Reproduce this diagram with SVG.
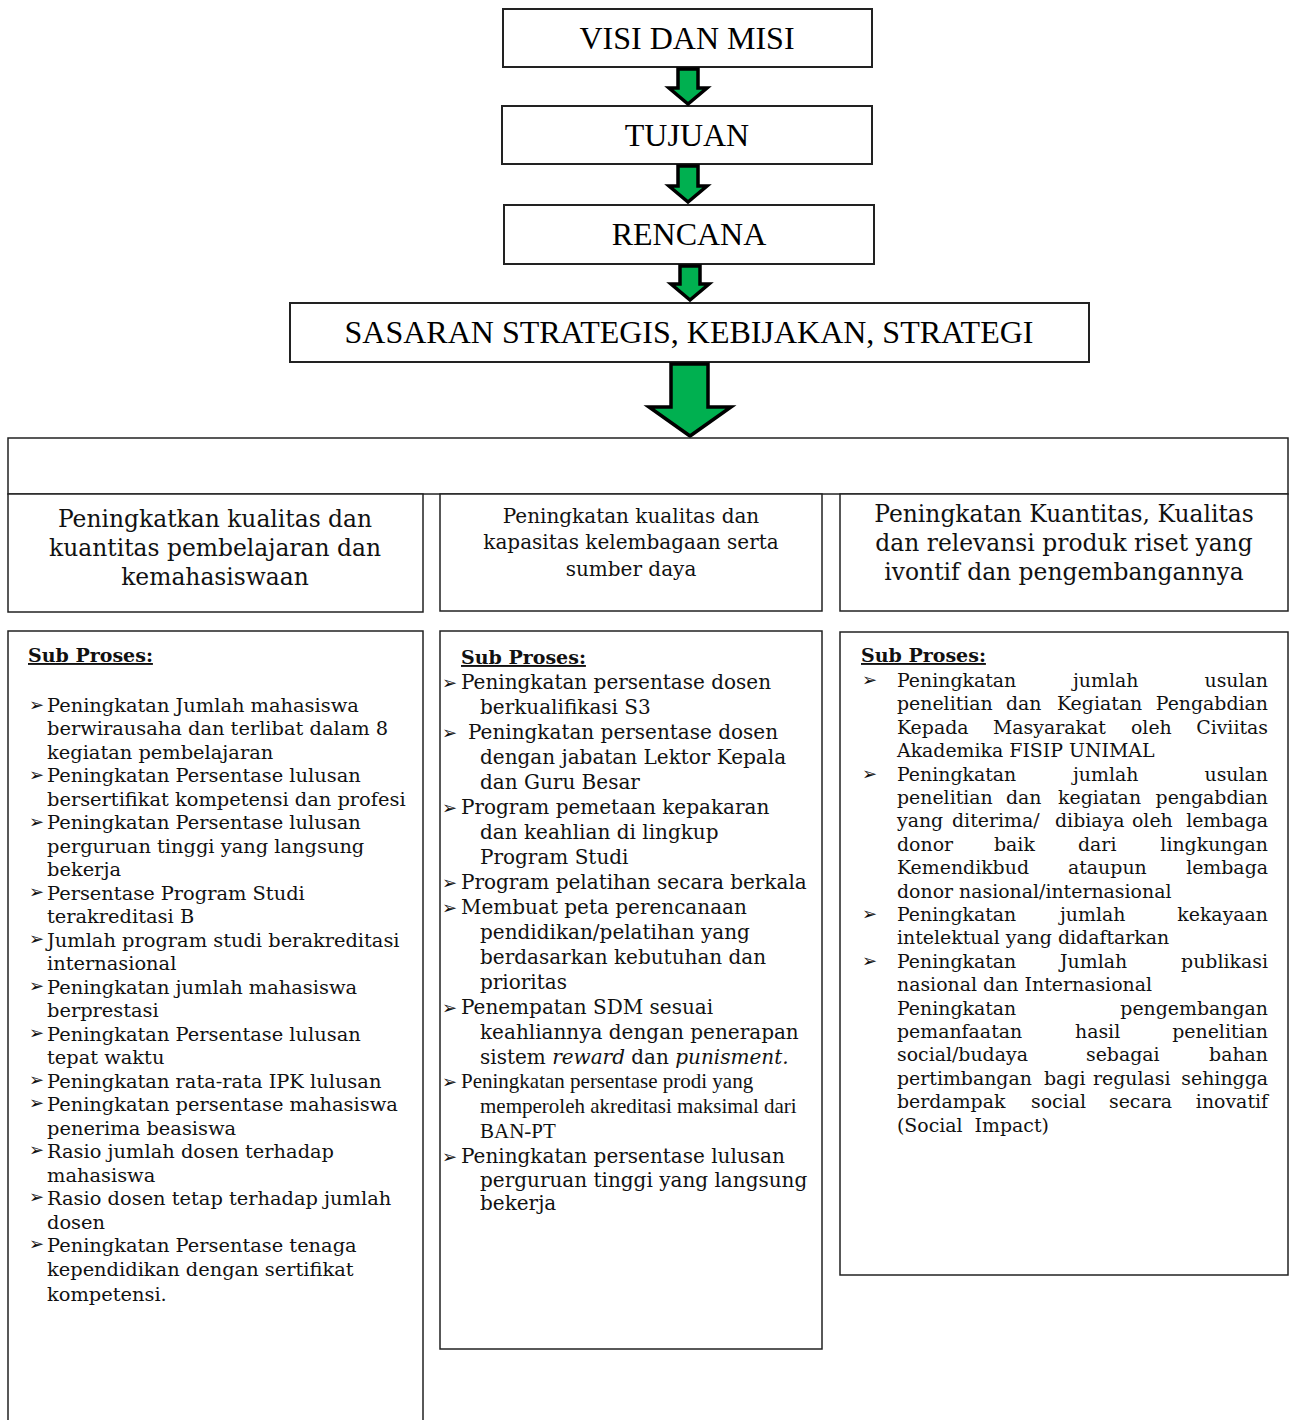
<svg xmlns="http://www.w3.org/2000/svg" width="1293" height="1420" viewBox="0 0 1293 1420">
<style>
.box{fill:#fff;stroke:#222;stroke-width:1.5}
.tbox{fill:#fff;stroke:#222;stroke-width:2}
.arr{fill:#00b050;stroke:#000;stroke-width:3.5;stroke-linejoin:miter}
.big{font-family:"Liberation Serif","Times New Roman",serif;font-size:32px;fill:#000;text-anchor:middle}
.hd{font-family:"DejaVu Serif",serif;font-size:23.4px;fill:#111;text-anchor:middle}
.hd2{font-family:"DejaVu Serif",serif;font-size:20px;fill:#111;text-anchor:middle}
.b1{font-family:"DejaVu Serif",serif;font-size:19.4px;fill:#111}
.b2{font-family:"DejaVu Serif",serif;font-size:20px;fill:#111}
.b3{font-family:"DejaVu Serif",serif;font-size:18.9px;fill:#111}
.tm{font-family:"Liberation Serif","Times New Roman",serif;font-size:21px;fill:#111}
.sp{font-family:"DejaVu Serif",serif;font-size:19px;font-weight:bold;text-decoration:underline;fill:#111}
.bl{font-family:"DejaVu Sans",sans-serif;font-size:18px;fill:#111}
.e{text-anchor:end}
</style>
<g id="visi"><rect class="tbox" x="503" y="9" width="369" height="58"/><text class="big" x="687" y="49">VISI DAN MISI</text></g>
<g id="tujuan"><rect class="tbox" x="502" y="106" width="370" height="58"/><text class="big" x="687" y="146">TUJUAN</text></g>
<g id="rencana"><rect class="tbox" x="504" y="205" width="370" height="59"/><text class="big" x="689" y="245">RENCANA</text></g>
<g id="sasaran"><rect class="tbox" x="290" y="303" width="799" height="59"/><text class="big" x="689" y="343">SASARAN STRATEGIS, KEBIJAKAN, STRATEGI</text></g>
<g id="connectors">
<polygon class="arr" points="678,69 698,69 698,88 707,88 688,104 669,88 678,88"/>
<polygon class="arr" points="678,166 698,166 698,186 707,186 688,202 669,186 678,186"/>
<polygon class="arr" points="680,266 700,266 700,284 709,284 690,300 671,284 680,284"/>
<polygon class="arr" points="671,364 708,364 708,407 731,407 690,436 649,407 671,407"/>
</g>
<g id="container"><rect class="box" x="8" y="438" width="1280" height="56"/></g>
<g id="head1"><rect class="box" x="8" y="494" width="415" height="118"/>
<text class="hd" x="215" y="527">Peningkatkan kualitas dan</text>
<text class="hd" x="215" y="556">kuantitas pembelajaran dan</text>
<text class="hd" x="215" y="585">kemahasiswaan</text></g>
<g id="head2"><rect class="box" x="440" y="494" width="382" height="117"/>
<text class="hd2" x="631" y="523">Peningkatan kualitas dan</text>
<text class="hd2" x="631" y="549">kapasitas kelembagaan serta</text>
<text class="hd2" x="631" y="576">sumber daya</text></g>
<g id="head3"><rect class="box" x="840" y="494" width="448" height="117"/>
<text class="hd" x="1064" y="522">Peningkatan Kuantitas, Kualitas</text>
<text class="hd" x="1064" y="551">dan relevansi produk riset yang</text>
<text class="hd" x="1064" y="580">ivontif dan pengembangannya</text></g>
<g id="sub1"><rect class="box" x="8" y="631" width="415" height="800"/>
<text class="sp" x="28" y="662">Sub Proses:</text>
<g class="bl"><text x="29" y="711">➢</text><text x="29" y="781">➢</text><text x="29" y="828">➢</text><text x="29" y="898">➢</text><text x="29" y="945">➢</text><text x="29" y="992">➢</text><text x="29" y="1039">➢</text><text x="29" y="1086">➢</text><text x="29" y="1109">➢</text><text x="29" y="1156">➢</text><text x="29" y="1203">➢</text><text x="29" y="1250">➢</text></g>
<g class="b1">
<text x="47" y="711.5">Peningkatan Jumlah mahasiswa</text>
<text x="47" y="735">berwirausaha dan terlibat dalam 8</text>
<text x="47" y="758.5">kegiatan pembelajaran</text>
<text x="47" y="782">Peningkatan Persentase lulusan</text>
<text x="47" y="805.5">bersertifikat kompetensi dan profesi</text>
<text x="47" y="829">Peningkatan Persentase lulusan</text>
<text x="47" y="852.5">perguruan tinggi yang langsung</text>
<text x="47" y="876">bekerja</text>
<text x="47" y="899.5">Persentase Program Studi</text>
<text x="47" y="923">terakreditasi B</text>
<text x="47" y="946.5">Jumlah program studi berakreditasi</text>
<text x="47" y="970">internasional</text>
<text x="47" y="993.5">Peningkatan jumlah mahasiswa</text>
<text x="47" y="1017">berprestasi</text>
<text x="47" y="1040.5">Peningkatan Persentase lulusan</text>
<text x="47" y="1064">tepat waktu</text>
<text x="47" y="1087.5">Peningkatan rata-rata IPK lulusan</text>
<text x="47" y="1111">Peningkatan persentase mahasiswa</text>
<text x="47" y="1134.5">penerima beasiswa</text>
<text x="47" y="1158">Rasio jumlah dosen terhadap</text>
<text x="47" y="1181.5">mahasiswa</text>
<text x="47" y="1205">Rasio dosen tetap terhadap jumlah</text>
<text x="47" y="1228.5">dosen</text>
<text x="47" y="1252">Peningkatan Persentase tenaga</text>
<text x="47" y="1275.5">kependidikan dengan sertifikat</text>
<text x="47" y="1301">kompetensi.</text>
</g></g>
<g id="sub2"><rect class="box" x="440" y="631" width="382" height="718"/>
<text class="sp" x="461" y="664">Sub Proses:</text>
<g class="bl"><text x="442" y="689">➢</text><text x="442" y="739">➢</text><text x="442" y="814">➢</text><text x="442" y="889">➢</text><text x="442" y="914">➢</text><text x="442" y="1014">➢</text><text x="442" y="1088">➢</text><text x="442" y="1163">➢</text></g>
<g class="b2">
<text x="461" y="689">Peningkatan persentase dosen</text>
<text x="480" y="714">berkualifikasi S3</text>
<text x="468" y="739">Peningkatan persentase dosen</text>
<text x="480" y="764">dengan jabatan Lektor Kepala</text>
<text x="480" y="789">dan Guru Besar</text>
<text x="461" y="814">Program pemetaan kepakaran</text>
<text x="480" y="839">dan keahlian di lingkup</text>
<text x="480" y="864">Program Studi</text>
<text x="461" y="889">Program pelatihan secara berkala</text>
<text x="461" y="914">Membuat peta perencanaan</text>
<text x="480" y="939">pendidikan/pelatihan yang</text>
<text x="480" y="964">berdasarkan kebutuhan dan</text>
<text x="480" y="989">prioritas</text>
<text x="461" y="1014">Penempatan SDM sesuai</text>
<text x="480" y="1039">keahliannya dengan penerapan</text>
<text x="480" y="1064">sistem <tspan font-style="italic">reward</tspan> dan <tspan font-style="italic">punisment.</tspan></text>
</g>
<g class="tm">
<text x="461" y="1088">Peningkatan persentase prodi yang</text>
<text x="480" y="1113">memperoleh akreditasi maksimal dari</text>
<text x="480" y="1138">BAN-PT</text>
</g>
<g class="b2">
<text x="461" y="1163">Peningkatan persentase lulusan</text>
<text x="480" y="1187">perguruan tinggi yang langsung</text>
<text x="480" y="1210">bekerja</text>
</g></g>
<g id="sub3"><rect class="box" x="840" y="632" width="448" height="643"/>
<text class="sp" x="861" y="662">Sub Proses:</text>
<g class="bl"><text x="862" y="686">➢</text><text x="862" y="780">➢</text><text x="862" y="920">➢</text><text x="862" y="967">➢</text></g>
<g class="b3">
<text x="897" y="687">Peningkatan</text><text x="1073" y="687">jumlah</text><text class="e" x="1268" y="687">usulan</text>
<text x="897" y="710.4">penelitian</text><text x="1006" y="710.4">dan</text><text x="1057" y="710.4">Kegiatan</text><text class="e" x="1268" y="710.4">Pengabdian</text>
<text x="897" y="733.8">Kepada</text><text x="993" y="733.8">Masyarakat</text><text x="1131" y="733.8">oleh</text><text class="e" x="1268" y="733.8">Civiitas</text>
<text x="897" y="757.2">Akademika FISIP UNIMAL</text>
<text x="897" y="780.6">Peningkatan</text><text x="1073" y="780.6">jumlah</text><text class="e" x="1268" y="780.6">usulan</text>
<text x="897" y="804">penelitian</text><text x="1006" y="804">dan</text><text x="1058" y="804">kegiatan</text><text class="e" x="1268" y="804">pengabdian</text>
<text x="897" y="827.4">yang</text><text x="952" y="827.4">diterima/</text><text x="1055" y="827.4">dibiaya</text><text x="1132" y="827.4">oleh</text><text class="e" x="1268" y="827.4">lembaga</text>
<text x="897" y="850.8">donor</text><text x="994" y="850.8">baik</text><text x="1078" y="850.8">dari</text><text class="e" x="1268" y="850.8">lingkungan</text>
<text x="897" y="874.2">Kemendikbud</text><text x="1068" y="874.2">ataupun</text><text class="e" x="1268" y="874.2">lembaga</text>
<text x="897" y="897.6">donor nasional/internasional</text>
<text x="897" y="921">Peningkatan</text><text x="1060" y="921">jumlah</text><text class="e" x="1268" y="921">kekayaan</text>
<text x="897" y="944.4">intelektual yang didaftarkan</text>
<text x="897" y="967.8">Peningkatan</text><text x="1060" y="967.8">Jumlah</text><text class="e" x="1268" y="967.8">publikasi</text>
<text x="897" y="991.2">nasional dan Internasional</text>
<text x="897" y="1014.6">Peningkatan</text><text class="e" x="1268" y="1014.6">pengembangan</text>
<text x="897" y="1038">pemanfaatan</text><text x="1075" y="1038">hasil</text><text class="e" x="1268" y="1038">penelitian</text>
<text x="897" y="1061.4">social/budaya</text><text x="1086" y="1061.4">sebagai</text><text class="e" x="1268" y="1061.4">bahan</text>
<text x="897" y="1084.8">pertimbangan</text><text x="1044" y="1084.8">bagi</text><text x="1093" y="1084.8">regulasi</text><text class="e" x="1268" y="1084.8">sehingga</text>
<text x="897" y="1108.2">berdampak</text><text x="1031" y="1108.2">social</text><text x="1109" y="1108.2">secara</text><text class="e" x="1268" y="1108.2">inovatif</text>
<text x="897" y="1131.6" xml:space="preserve">(Social  Impact)</text>
</g></g>
</svg>
